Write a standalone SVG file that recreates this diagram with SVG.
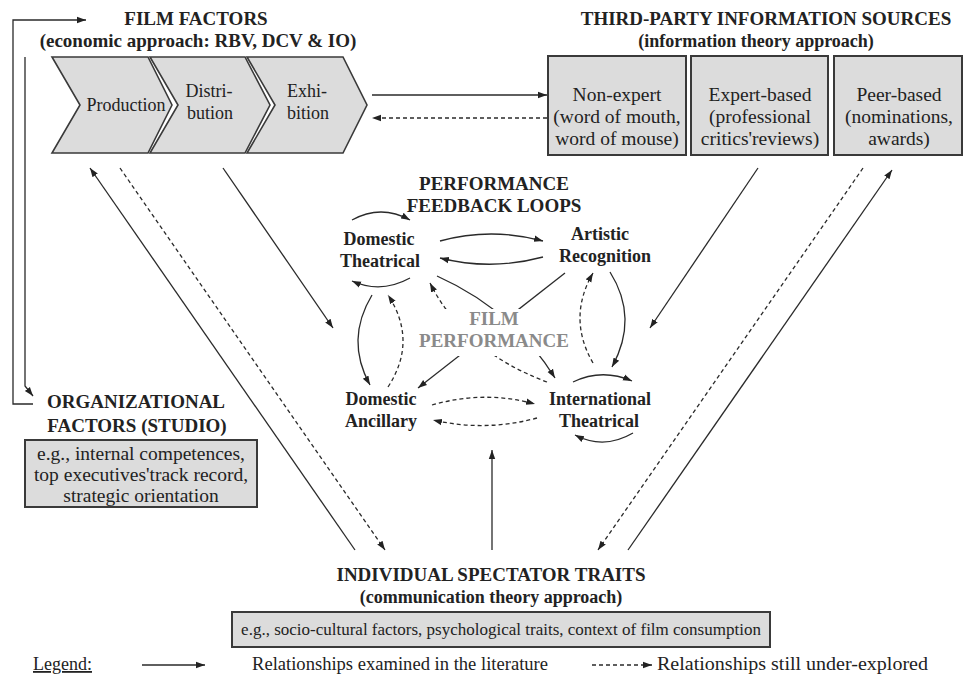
<svg xmlns="http://www.w3.org/2000/svg" width="965" height="679" viewBox="0 0 965 679">
  <style>
    text { font-family: "Liberation Serif", "Times New Roman", serif; font-size: 18px; fill: #222; }
    .b { font-weight: bold; }
    .h { font-weight: bold; font-size: 19px; }
    .c { text-anchor: middle; }
    .src { font-size: 19.5px; }
    .org { font-size: 19.5px; }
    .perf { fill: #8a8a8a; font-weight: bold; font-size: 19px; }
    .chev { fill: #dcdcdc; stroke: #3a3a3a; stroke-width: 1.6; }
    .box { fill: #dcdcdc; stroke: #3a3a3a; stroke-width: 2; }
    .ln { fill: none; stroke: #2a2a2a; stroke-width: 1.3; marker-end: url(#ah); }
    .dl { fill: none; stroke: #2a2a2a; stroke-width: 1.3; stroke-dasharray: 4 3; marker-end: url(#ah); }
  </style>
  <defs>
    <marker id="ah" markerUnits="userSpaceOnUse" markerWidth="10" markerHeight="8" refX="9" refY="4" orient="auto">
      <path d="M0,0.8 L9,4 L0,7.2 z" fill="#222"/>
    </marker>
  </defs>

  <rect width="965" height="679" fill="#fff"/>

  <!-- connectors -->
  <g id="connectors">
    <!-- feedback bracket between film factors and organizational factors -->
    <polyline class="ln" points="33,404 13,404 13,20 86,20"/>
    <path class="ln" d="M25,57 V386 L33,396"/>
    <!-- film factors <-> third-party sources -->
    <path class="ln" d="M372,95 H547"/>
    <path class="dl" d="M547,118 H372"/>
    <!-- diagonals left -->
    <path class="ln" d="M355,550 L90,168"/>
    <path class="dl" d="M120,168 L385,550"/>
    <path class="ln" d="M223,168 L333,328"/>
    <!-- diagonals right -->
    <path class="ln" d="M758,168 L650,328"/>
    <path class="dl" d="M863,168 L598,550"/>
    <path class="ln" d="M628,550 L892,170"/>
    <!-- spectator traits to performance -->
    <path class="ln" d="M492,550 V450"/>

    <!-- performance feedback loops -->
    <path class="ln" d="M352,220 Q381,204 410,220"/>
    <path class="ln" d="M410,278 Q381,294 352,281"/>
    <path class="ln" d="M440,241 Q491,227 543,241"/>
    <path class="ln" d="M543,257 Q491,271 440,258"/>
    <path class="ln" d="M372,295 Q345,340 370,385"/>
    <path class="dl" d="M388,387 Q418,341 388,295"/>
    <path class="ln" d="M565,273 L418,388"/>
    <path class="ln" d="M437,276 Q513,310 555,378"/>
    <path class="dl" d="M547,382 Q464,351 430,283"/>
    <path class="dl" d="M593,363 Q567,318 593,273"/>
    <path class="ln" d="M610,272 Q639,318 612,367"/>
    <path class="ln" d="M573,382 Q602,368 632,381"/>
    <path class="ln" d="M633,433 Q604,450 575,435"/>
    <path class="dl" d="M432,405 Q484,390 535,404"/>
    <path class="dl" d="M537,418 Q485,432 433,420"/>
  </g>

  <!-- film factors -->
  <g id="film-factors">
    <text class="h c" x="196" y="25">FILM FACTORS</text>
    <text class="h c" x="198" y="47">(economic approach: RBV, DCV &amp; IO)</text>
    <polygon class="chev" points="52,57 148,57 172,105 148,153 52,153 80,105"/>
    <polygon class="chev" points="150,57 245,57 270,105 245,153 150,153 178,105"/>
    <polygon class="chev" points="247,57 343,57 367,105 343,153 247,153 275,105"/>
    <text class="c" x="126" y="111">Production</text>
    <text class="c" x="209" y="97">Distri-</text>
    <text class="c" x="210" y="119">bution</text>
    <text class="c" x="307" y="97">Exhi-</text>
    <text class="c" x="308" y="119">bition</text>
  </g>

  <!-- third-party information sources -->
  <g id="third-party">
    <text class="h c" x="766" y="25">THIRD-PARTY INFORMATION SOURCES</text>
    <text class="b c" x="756" y="47">(information theory approach)</text>
    <rect class="box" x="548" y="56" width="138" height="99"/>
    <rect class="box" x="691" y="56" width="137" height="99"/>
    <rect class="box" x="834" y="56" width="128" height="99"/>
    <text class="src c" x="617" y="101">Non-expert</text>
    <text class="src c" x="617" y="123">(word of mouth,</text>
    <text class="src c" x="617" y="145">word of mouse)</text>
    <text class="src c" x="760" y="101">Expert-based</text>
    <text class="src c" x="760" y="123">(professional</text>
    <text class="src c" x="760" y="145">critics'reviews)</text>
    <text class="src c" x="899" y="101">Peer-based</text>
    <text class="src c" x="899" y="123">(nominations,</text>
    <text class="src c" x="899" y="145">awards)</text>
  </g>

  <!-- performance feedback loops -->
  <g id="feedback-loops">
    <text class="h c" x="494" y="190">PERFORMANCE</text>
    <text class="h c" x="494" y="212">FEEDBACK LOOPS</text>
  </g>
  <g id="domestic-theatrical">
    <text class="b c" x="379" y="245">Domestic</text>
    <text class="b c" x="380" y="267">Theatrical</text>
  </g>
  <g id="artistic-recognition">
    <text class="b c" x="600" y="240">Artistic</text>
    <text class="b c" x="605" y="262">Recognition</text>
  </g>
  <g id="film-performance">
    <rect x="418" y="309" width="152" height="47" fill="#fff"/>
    <text class="perf c" x="494" y="325">FILM</text>
    <text class="perf c" x="494" y="347">PERFORMANCE</text>
  </g>
  <g id="domestic-ancillary">
    <text class="b c" x="381" y="405">Domestic</text>
    <text class="b c" x="381" y="427">Ancillary</text>
  </g>
  <g id="international-theatrical">
    <text class="b c" x="600" y="405">International</text>
    <text class="b c" x="599" y="427">Theatrical</text>
  </g>

  <!-- organizational factors -->
  <g id="organizational">
    <text class="h c" x="136" y="408">ORGANIZATIONAL</text>
    <text class="h c" x="137" y="432">FACTORS (STUDIO)</text>
    <rect class="box" x="25" y="440" width="232" height="67"/>
    <text class="org c" x="141" y="460">e.g., internal competences,</text>
    <text class="org c" x="141" y="481">top executives'track record,</text>
    <text class="org c" x="141" y="502">strategic orientation</text>
  </g>

  <!-- individual spectator traits -->
  <g id="spectator">
    <text class="h c" x="491" y="581">INDIVIDUAL SPECTATOR TRAITS</text>
    <text class="b c" x="491" y="603">(communication theory approach)</text>
    <rect class="box" x="232" y="612" width="538" height="35"/>
    <text class="c" x="501" y="635" style="font-size:17px">e.g., socio-cultural factors, psychological traits, context of film consumption</text>
  </g>

  <!-- legend -->
  <g id="legend">
    <text x="33" y="670" text-decoration="underline">Legend:</text>
    <path class="ln" d="M142,665 H205"/>
    <text x="252" y="670" textLength="296" lengthAdjust="spacingAndGlyphs">Relationships examined in the literature</text>
    <path class="dl" d="M592,665 H652"/>
    <text x="657" y="670" textLength="271" lengthAdjust="spacingAndGlyphs">Relationships still under-explored</text>
  </g>
</svg>
